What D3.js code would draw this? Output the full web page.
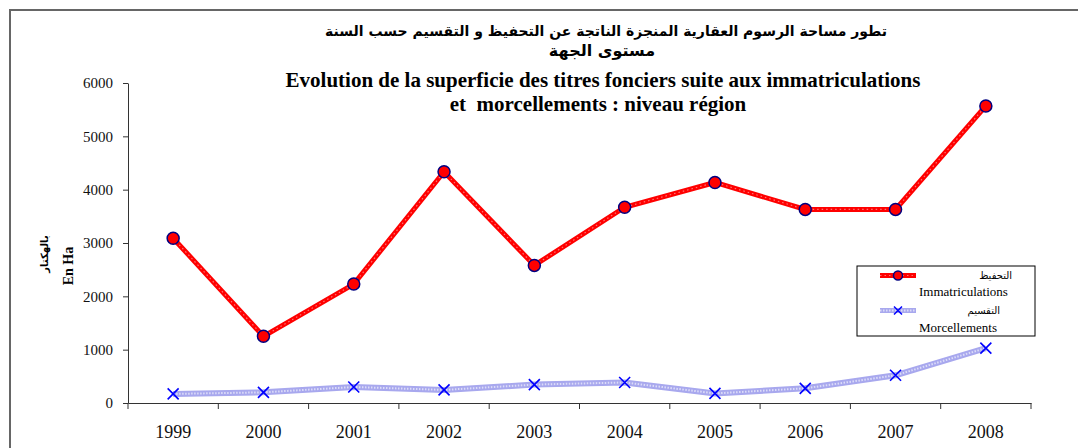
<!DOCTYPE html>
<html>
<head>
<meta charset="utf-8">
<script src="https://cdn.jsdelivr.net/npm/d3@7"></script>
<style>
  body { margin: 0; background: #fff; }
  svg { display: block; }
</style>
</head>
<body>
<svg width="1078" height="448"></svg>
<script>
const years = ["1999", "2000", "2001", "2002", "2003", "2004", "2005", "2006", "2007", "2008"];
const immatriculations = [3090, 1250, 2230, 4335, 2580, 3670, 4135, 3630, 3630, 5570];
const morcellements = [170, 200, 300, 245, 345, 385, 180, 275, 520, 1030];
const yTicks = [0, 1000, 2000, 3000, 4000, 5000, 6000];

const svg = d3.select("svg");
const width = +svg.attr("width");
const height = +svg.attr("height");

// outer frame (only top and left are visible in the crop)
svg.append("path")
    .attr("d", `M10,${height} V10 H${width}`)
    .attr("fill", "none")
    .attr("stroke", "#666")
    .attr("stroke-width", 2);

const x = d3.scaleBand().domain(years).range([128, 1031]);
const y = d3.scaleLinear().domain([0, 6000]).range([403, 83]);

// titles
const serif = "'Liberation Serif', 'Times New Roman', serif";
const arabic = "'DejaVu Sans', 'Liberation Sans', sans-serif";
const title = svg.append("g").attr("text-anchor", "middle").attr("font-weight", "bold");
title.append("text").attr("x", 606).attr("y", 36)
    .attr("font-family", arabic).attr("font-size", 14)
    .text("تطور مساحة الرسوم العقارية المنجزة الناتجة عن التحفيظ و التقسيم حسب السنة");
title.append("text").attr("x", 602).attr("y", 56)
    .attr("font-family", arabic).attr("font-size", 16)
    .text("مستوى الجهة");
title.append("text").attr("x", 603).attr("y", 87)
    .attr("font-family", serif).attr("font-size", 21)
    .text("Evolution de la superficie des titres fonciers suite aux immatriculations");
title.append("text").attr("x", 598).attr("y", 111)
    .attr("font-family", serif).attr("font-size", 21)
    .style("white-space", "pre")
    .text("et  morcellements : niveau région");

// y axis title
svg.append("text")
    .attr("transform", "translate(48,254) rotate(-90)")
    .attr("text-anchor", "middle").attr("font-weight", "bold")
    .attr("font-family", arabic).attr("font-size", 10)
    .text("بالهكتار");
svg.append("text")
    .attr("transform", "translate(73,266) rotate(-90)")
    .attr("text-anchor", "middle").attr("font-weight", "bold")
    .attr("font-family", serif).attr("font-size", 14)
    .text("En Ha");

// axes
const yAxis = svg.append("g")
    .attr("transform", "translate(128,0)")
    .call(d3.axisLeft(y).tickValues(yTicks).tickFormat(d3.format("d"))
        .tickSize(5).tickPadding(10).tickSizeOuter(0));
yAxis.attr("font-family", serif);
yAxis.selectAll("text").attr("font-size", 15).attr("fill", "#111");

const xAxis = svg.append("g")
    .attr("transform", "translate(0,403)")
    .call(d3.axisBottom(x).tickSize(0).tickPadding(22));
xAxis.attr("font-family", serif);
xAxis.selectAll("text").attr("font-size", 18).attr("fill", "#111");
// boundary ticks between categories
xAxis.selectAll(".bound")
    .data(years.concat(["end"]))
    .join("line")
    .attr("class", "bound")
    .attr("x1", (d, i) => i < years.length ? x(d) : x.range()[1])
    .attr("x2", (d, i) => i < years.length ? x(d) : x.range()[1])
    .attr("y1", 0).attr("y2", 6)
    .attr("stroke", "#333");
svg.selectAll(".domain").attr("stroke", "#333");
svg.selectAll(".tick line").attr("stroke", "#333");

const cx = d => x(d) + x.bandwidth() / 2;
const line = d3.line().x((d, i) => cx(years[i])).y(d => y(d));

// Morcellements series
svg.append("path").datum(morcellements)
    .attr("d", line).attr("fill", "none")
    .attr("stroke", "#a8a8ee").attr("stroke-width", 6);
svg.append("path").datum(morcellements)
    .attr("d", line).attr("fill", "none")
    .attr("stroke", "#fff").attr("stroke-opacity", 0.6)
    .attr("stroke-width", 2).attr("stroke-dasharray", "1.5,1.5");
const cross = (px, py, r) => `M${px - r},${py - r}L${px + r},${py + r}M${px - r},${py + r}L${px + r},${py - r}`;
svg.selectAll(".xm").data(morcellements).join("path")
    .attr("class", "xm")
    .attr("d", (d, i) => cross(cx(years[i]), y(d), 5.5))
    .attr("stroke", "#0000ff").attr("stroke-width", 1.6);

// Immatriculations series
svg.append("path").datum(immatriculations)
    .attr("d", line).attr("fill", "none")
    .attr("stroke", "#ff0000").attr("stroke-width", 5);
svg.append("path").datum(immatriculations)
    .attr("d", line).attr("fill", "none")
    .attr("stroke", "#fff").attr("stroke-opacity", 0.45)
    .attr("stroke-width", 1.2).attr("stroke-dasharray", "1.5,3");
svg.selectAll(".dot").data(immatriculations).join("circle")
    .attr("class", "dot")
    .attr("cx", (d, i) => cx(years[i])).attr("cy", d => y(d))
    .attr("r", 6)
    .attr("fill", "#ff0000").attr("stroke", "#000080").attr("stroke-width", 1.5);

// legend
const lg = svg.append("g");
lg.append("rect").attr("x", 857).attr("y", 266).attr("width", 178).attr("height", 70)
    .attr("fill", "#fff").attr("stroke", "#000").attr("stroke-width", 1);
lg.append("line").attr("x1", 880).attr("x2", 916).attr("y1", 275.5).attr("y2", 275.5)
    .attr("stroke", "#ff0000").attr("stroke-width", 5);
lg.append("line").attr("x1", 880).attr("x2", 916).attr("y1", 275.5).attr("y2", 275.5)
    .attr("stroke", "#fff").attr("stroke-opacity", 0.45).attr("stroke-width", 1.2)
    .attr("stroke-dasharray", "1.5,3");
lg.append("circle").attr("cx", 898).attr("cy", 275.5).attr("r", 4.5)
    .attr("fill", "#ff0000").attr("stroke", "#000080").attr("stroke-width", 1.5);
lg.append("line").attr("x1", 880).attr("x2", 916).attr("y1", 310.5).attr("y2", 310.5)
    .attr("stroke", "#a8a8ee").attr("stroke-width", 5);
lg.append("line").attr("x1", 880).attr("x2", 916).attr("y1", 310.5).attr("y2", 310.5)
    .attr("stroke", "#fff").attr("stroke-opacity", 0.6).attr("stroke-width", 1.8)
    .attr("stroke-dasharray", "1.5,1.5");
lg.append("path").attr("d", cross(898, 310.5, 4))
    .attr("stroke", "#0000ff").attr("stroke-width", 1.5);
lg.append("text").attr("x", 1012).attr("y", 279).attr("text-anchor", "end")
    .attr("font-family", arabic).attr("font-size", 10).text("التحفيظ");
lg.append("text").attr("x", 919).attr("y", 296)
    .attr("font-family", serif).attr("font-size", 13).text("Immatriculations");
lg.append("text").attr("x", 1000).attr("y", 314).attr("text-anchor", "end")
    .attr("font-family", arabic).attr("font-size", 10).text("التقسيم");
lg.append("text").attr("x", 919).attr("y", 332)
    .attr("font-family", serif).attr("font-size", 13).text("Morcellements");
</script>
</body>
</html>
